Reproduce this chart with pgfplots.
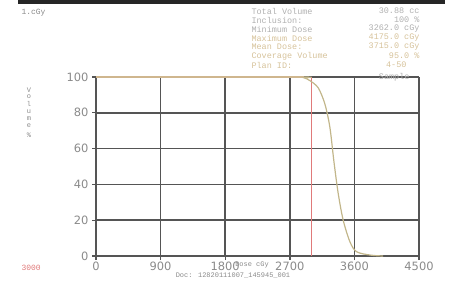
\documentclass[border=0pt]{standalone}
\usepackage{pgfplots}
\pgfplotsset{compat=1.18}
\usepackage{fontspec}
\setmainfont{DejaVu Sans}
\newfontfamily\mono{Liberation Mono}
\definecolor{gridc}{HTML}{555555}
\definecolor{tickc}{HTML}{8A8A8A}
\definecolor{curvec}{HTML}{C2B68A}
\definecolor{refc}{HTML}{EAB898}
\definecolor{redc}{HTML}{E07A7A}
\definecolor{statg}{HTML}{B0B0B0}
\definecolor{stato}{HTML}{D6C29A}
\pgfplotstableread{
x y
0 100
2800 100
2900 99.5
2979 98
3095 94
3188 85
3258 72
3314 53
3374 35
3444 20
3537 8
3630 2.4
3823 0.5
4000 0
}\dvh
\begin{document}
\begin{tikzpicture}[x=1bp,y=1bp]
\useasboundingbox (0,0) rectangle (449,280);
\fill[black!85] (18,276) rectangle (445,280);
\begin{axis}[
  at={(96bp,24bp)}, anchor=origin,
  scale only axis, width=323bp, height=179bp,
  xmin=0, xmax=4500, ymin=0, ymax=100,
  xtick={0,900,...,4500}, ytick={0,20,...,100},
  grid=major,
  grid style={gridc, line width=1.6pt},
  axis x line=bottom, axis y line=left,
  axis line style={gridc, line width=1.8pt, -},
  tick style={gridc, line width=1.4pt},
  tick align=outside, major tick length=4bp,
  ticklabel style={font=\fontsize{11.5}{11.5}\selectfont, text=tickc},
  xticklabel style={yshift=2bp},
  /pgf/number format/assume math mode=true,
  /pgf/number format/1000 sep={},
  clip=false,
]
\addplot[refc, line width=1.2pt] coordinates {(0,100) (2900,100)};
\addplot[redc, line width=1pt] coordinates {(3000,0) (3000,100)};
\addplot[curvec, line width=1.2pt, smooth] table[x=x,y=y] {\dvh};
\end{axis}
\node[anchor=west, text=tickc, font=\mono\fontsize{8}{8}\selectfont] at (18,267) {1.cGy};
\node[anchor=west, text=redc, font=\mono\fontsize{8}{8}\selectfont] at (18,12) {3000};
\node[anchor=north, text=tickc, font=\mono\fontsize{7}{8.5}\selectfont, align=center] at (29,196) {\shortstack{V\\o\\l\\u\\m\\e\\ \\\%}};
\node[text=tickc, font=\mono\fontsize{7}{7}\selectfont] at (252,15) {Dose cGy};
\node[text=tickc, font=\mono\fontsize{7}{7}\selectfont] at (233,4.5) {Doc: 12820111007\_145945\_001};
\begin{scope}[font=\mono\fontsize{8.5}{8.5}\selectfont]
\node[anchor=west, text=statg] at (248,269) {Total Volume};
\node[anchor=east, text=statg] at (423,269) {30.88 cc};
\node[anchor=west, text=statg] at (248,260) {Inclusion:};
\node[anchor=east, text=statg] at (423,260) {100 \%};
\node[anchor=west, text=statg] at (248,251) {Minimum Dose};
\node[anchor=east, text=statg] at (423,251) {3262.0 cGy};
\node[anchor=west, text=stato] at (248,242) {Maximum Dose};
\node[anchor=east, text=stato] at (423,242) {4175.0 cGy};
\node[anchor=west, text=stato] at (248,233) {Mean Dose:};
\node[anchor=east, text=stato] at (423,233) {3715.0 cGy};
\node[anchor=west, text=stato] at (248,224) {Coverage Volume};
\node[anchor=east, text=stato] at (423,224) {95.0 \%};
\node[anchor=west, text=stato] at (248,215) {Plan ID:};
\node[anchor=east, text=stato] at (410,215) {4-50};
\node[anchor=east, text=statg] at (413,203) {Sample};
\end{scope}
\end{tikzpicture}
\end{document}
